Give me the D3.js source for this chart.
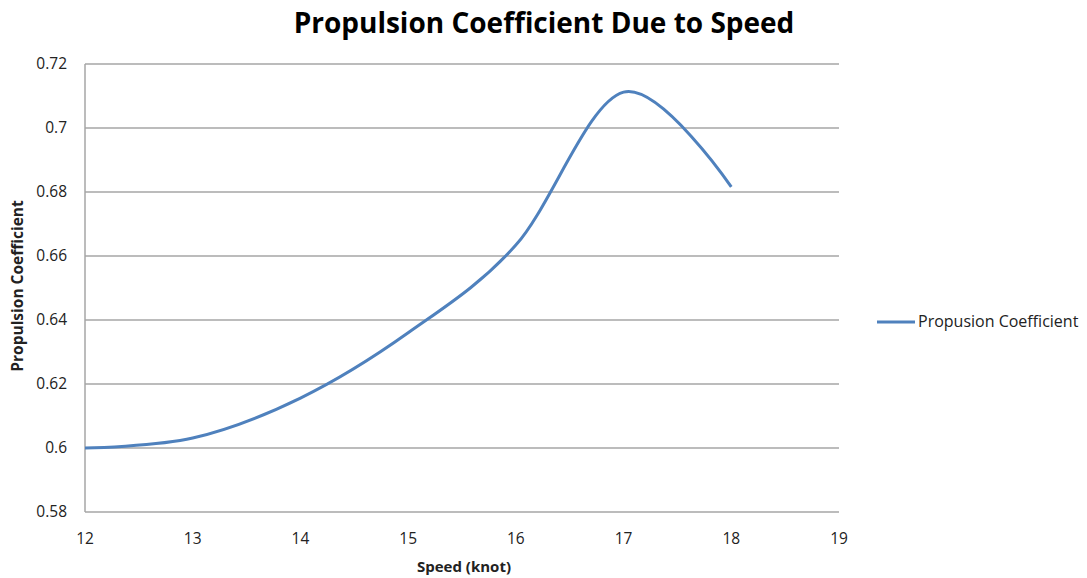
<!DOCTYPE html>
<html>
<head>
<meta charset="utf-8">
<script src="https://cdn.jsdelivr.net/npm/d3@7"></script>
<style>
  body { margin: 0; background: #fff; }
  text { font-family: "Open Sans", sans-serif; }
</style>
</head>
<body>
<svg id="chart" width="1087" height="578"></svg>
<script>
// values
var speeds = [12, 13, 14, 15, 16, 17, 18];
var coeffs = [0.600, 0.6031, 0.6156, 0.636, 0.6634, 0.7112, 0.6816];
var xTicks = [12, 13, 14, 15, 16, 17, 18, 19];
var yTicks = [0.58, 0.6, 0.62, 0.64, 0.66, 0.68, 0.7, 0.72];
var seriesName = "Propusion Coefficient";

var svg = d3.select("#chart");
var plotL = 85, plotR = 839, plotT = 64, plotB = 512;

var x = d3.scaleLinear().domain([12, 19]).range([plotL, plotR]);
var y = d3.scaleLinear().domain([0.58, 0.72]).range([plotB, plotT]);

// gridlines
svg.append("g")
  .selectAll("line")
  .data(yTicks)
  .enter()
  .append("line")
  .attr("x1", plotL)
  .attr("x2", plotR)
  .attr("y1", function(d) { return y(d); })
  .attr("y2", function(d) { return y(d); })
  .attr("stroke", "#a6a6a6")
  .attr("stroke-width", 1.5);

// y axis line
svg.append("line")
  .attr("x1", plotL).attr("x2", plotL)
  .attr("y1", plotT).attr("y2", plotB)
  .attr("stroke", "#a6a6a6")
  .attr("stroke-width", 1.5);

// tick labels
svg.append("g")
  .selectAll("text")
  .data(yTicks)
  .enter()
  .append("text")
  .attr("x", 67)
  .attr("y", function(d) { return y(d) + 5; })
  .attr("text-anchor", "end")
  .attr("font-size", 15.5)
  .attr("fill", "#222")
  .text(function(d) { return String(+d.toFixed(2)); });

svg.append("g")
  .selectAll("text")
  .data(xTicks)
  .enter()
  .append("text")
  .attr("x", function(d) { return x(d); })
  .attr("y", 544)
  .attr("text-anchor", "middle")
  .attr("font-size", 15.5)
  .attr("fill", "#222")
  .text(function(d) { return d; });

// the series
var line = d3.line()
  .x(function(d, i) { return x(speeds[i]); })
  .y(function(d) { return y(d); })
  .curve(d3.curveCardinal.tension(0));

svg.append("path")
  .datum(coeffs)
  .attr("d", line)
  .attr("fill", "none")
  .attr("stroke", "#4f81bd")
  .attr("stroke-width", 3);

// titles
svg.append("text")
  .attr("x", 544)
  .attr("y", 33)
  .attr("text-anchor", "middle")
  .attr("font-size", 28)
  .attr("font-weight", "bold")
  .attr("fill", "#000")
  .text("Propulsion Coefficient Due to Speed");

svg.append("text")
  .attr("x", 464)
  .attr("y", 572)
  .attr("text-anchor", "middle")
  .attr("font-size", 15)
  .attr("font-weight", "bold")
  .attr("fill", "#222")
  .text("Speed (knot)");

svg.append("text")
  .attr("transform", "translate(23,286) rotate(-90)")
  .attr("text-anchor", "middle")
  .attr("font-size", 15.5)
  .attr("font-weight", "bold")
  .attr("fill", "#222")
  .text("Propulsion Coefficient");

// legend
var lg = svg.append("g").attr("transform", "translate(877,322)");
lg.append("line")
  .attr("x1", 0).attr("x2", 38)
  .attr("y1", 0).attr("y2", 0)
  .attr("stroke", "#4f81bd")
  .attr("stroke-width", 3);
lg.append("text")
  .attr("x", 41)
  .attr("y", 5)
  .attr("font-size", 16)
  .attr("fill", "#222")
  .text(seriesName);
</script>
</body>
</html>
